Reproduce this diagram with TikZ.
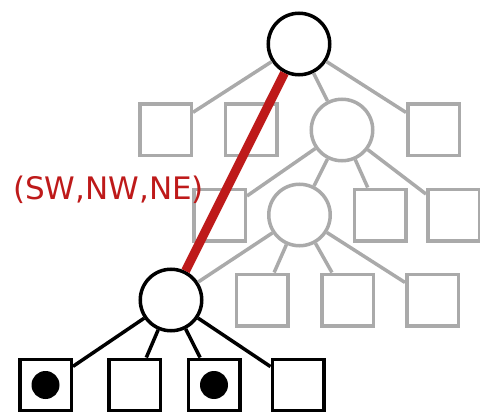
\documentclass[tikz,border=0pt]{standalone}
\usepackage{fontspec}
\newfontfamily\labelfont{DejaVu Sans}
\definecolor{baumgrau}{HTML}{AAAAAA}
\definecolor{pfadrot}{HTML}{BE1A1A}

\begin{document}
\begin{tikzpicture}[x=1pt, y=-1pt,
  knoten/.style = {circle, draw=black, line width=3.5pt, fill=white, minimum size=61.5pt, inner sep=0pt},
  grauknoten/.style = {knoten, draw=baumgrau},
  blatt/.style = {rectangle, draw=black, line width=3.5pt, fill=white, minimum size=51.5pt, inner sep=0pt},
  graublatt/.style = {blatt, draw=baumgrau},
  punkt/.style = {circle, fill=black, minimum size=28pt, inner sep=0pt},
  grau/.style = {draw=baumgrau, line width=3.5pt},
  kante/.style = {draw=black, line width=3.5pt},
  pfad/.style = {draw=pfadrot, line width=9pt}]

%%% Definition der BoundingBox
\useasboundingbox (0,0) rectangle (480,412);

%%% Wurzel
\node[knoten] (w) at (299,44) {};

%%% Ebene 1
\node[graublatt]   (a1) at (165.5,130) {};
\node[graublatt]   (a2) at (251,130) {};
\node[grauknoten]  (a3) at (342,130) {};
\node[graublatt]   (a4) at (433.5,130) {};

%%% Ebene 2
\node[graublatt]   (b1) at (219.5,215) {};
\node[grauknoten]  (b2) at (299.5,215) {};
\node[graublatt]   (b3) at (380,215) {};
\node[graublatt]   (b4) at (453.5,215) {};

%%% Ebene 3
\node[knoten]      (c1) at (171,300) {};
\node[graublatt]   (c2) at (262,300) {};
\node[graublatt]   (c3) at (347.5,300) {};
\node[graublatt]   (c4) at (432.5,300) {};

%%% Ebene 4
\node[blatt] (d1) at (45.5,385) {};
\node[blatt] (d2) at (134.5,385) {};
\node[blatt] (d3) at (214,385) {};
\node[blatt] (d4) at (298,385) {};
\node[punkt] (p1) at (d1) {};
\node[punkt] (p3) at (d3) {};

%%% Kanten
\draw[grau] (w) -- (a1);  \draw[grau] (w) -- (a2);
\draw[grau] (w) -- (a3);  \draw[grau] (w) -- (a4);
\draw[grau] (a3) -- (b1); \draw[grau] (a3) -- (b2);
\draw[grau] (a3) -- (b3); \draw[grau] (a3) -- (b4);
\draw[grau] (b2) -- (c1); \draw[grau] (b2) -- (c2);
\draw[grau] (b2) -- (c3); \draw[grau] (b2) -- (c4);
\draw[kante] (c1) -- (d1); \draw[kante] (c1) -- (d2);
\draw[kante] (c1) -- (d3); \draw[kante] (c1) -- (d4);

%%% Pfad mit Beschriftung
\draw[pfad] (w) -- (c1);
\node[text=pfadrot, anchor=base] (bez) at (108.5,199)
  {\labelfont\fontsize{31}{36}\selectfont (SW,NW,NE)};

\end{tikzpicture}
\end{document}
